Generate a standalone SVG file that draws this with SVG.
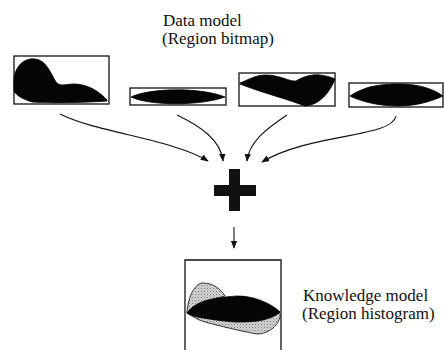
<svg xmlns="http://www.w3.org/2000/svg" width="444" height="350" viewBox="0 0 444 350">
  <style>
    .frame { fill: none; stroke: #111; stroke-width: 1.3; }
    .blob { fill: #050505; stroke: #000; stroke-width: 0.8; }
    .shade { fill: url(#stipple); stroke: #222; stroke-width: 0.9; }
    .conn { fill: none; stroke: #111; stroke-width: 1.1; }
    .label { font-family: "Liberation Serif", "Times New Roman", serif; font-size: 17px; fill: #111; }
  </style>
  <defs>
    <marker id="head" viewBox="0 0 10 10" refX="9" refY="5" markerWidth="8" markerHeight="8" markerUnits="userSpaceOnUse" orient="auto">
      <path d="M0,1 L10,5 L0,9 Z" fill="#111"/>
    </marker>
    <pattern id="stipple" width="3" height="3" patternUnits="userSpaceOnUse">
      <rect width="3" height="3" fill="#d4d4d4"/>
      <rect width="1" height="1" fill="#777"/>
      <rect x="1.5" y="1.5" width="1" height="1" fill="#999"/>
    </pattern>
  </defs>

  <!-- caption for the input bitmaps -->
  <g id="data-model-label">
    <text class="label" x="163" y="26">Data model</text>
    <text class="label" x="162" y="44">(Region bitmap)</text>
  </g>

  <!-- region bitmaps -->
  <g id="bitmap-1">
    <rect class="frame" x="14" y="56" width="95" height="48"/>
    <path class="blob" d="M14,79 C16,62 28,58 35,59 C46,60 50,72 56,82 C60,87 66,84 74,84 C88,84 100,92 107,100 L107,101 C80,103 45,103 32,102 C22,99 16,95 14,91 Z"/>
  </g>
  <g id="bitmap-2">
    <rect class="frame" x="130" y="88" width="96" height="17"/>
    <path class="blob" d="M131,97 C150,88 200,87 225,97 C200,106 150,106 131,97 Z"/>
  </g>
  <g id="bitmap-3">
    <rect class="frame" x="239" y="73" width="96" height="33"/>
    <path class="blob" d="M240,83 C248,80 255,75 266,75 C280,75 290,82 296,81 C302,77 312,74 320,75 C328,76 333,78 335,79 C330,92 320,105 305,106 C290,100 260,92 240,84 Z"/>
  </g>
  <g id="bitmap-4">
    <rect class="frame" x="349" y="83" width="94" height="24"/>
    <path class="blob" d="M350,96 C365,86 380,84 400,84 C420,84 435,90 443,96 C430,102 415,106 398,106 C380,106 362,102 350,96 Z"/>
  </g>

  <!-- combination operator -->
  <g id="plus">
    <rect x="214" y="185" width="42" height="11" fill="#111"/>
    <rect x="229" y="169" width="11" height="42" fill="#111"/>
  </g>

  <!-- resulting histogram model -->
  <g id="histogram">
    <path class="frame" d="M185,350 L185,260 L281,260 L281,350"/>
    <path class="shade" d="M187,313 C188,296 195,283 203,283 C213,283 221,289 225,296 C212,299 198,305 187,313 Z"/>
    <path class="shade" d="M187,313 C193,317 198,320 205,322 C220,326 240,331 257,334 C266,334 274,329 278,322 C280,318 281,315 280,313 C260,318 220,320 187,313 Z"/>
    <path class="blob" d="M187,313 C192,306 200,302 208,300 C216,298 224,297 237,296 C247,296 255,298 262,301 C270,304 276,308 280,312 C276,316 270,318 263,320 C255,322 245,322 235,322 C222,321 208,319 197,317 C192,316 189,314 187,313 Z"/>
  </g>
  <g id="knowledge-model-label">
    <text class="label" x="303" y="301">Knowledge model</text>
    <text class="label" x="302" y="319">(Region histogram)</text>
  </g>

  <!-- connectors -->
  <g id="connectors">
    <path class="conn" marker-end="url(#head)" d="M60,114 C95,132 175,140 208,161"/>
    <path class="conn" marker-end="url(#head)" d="M177,115 C200,126 221,140 223,161"/>
    <path class="conn" marker-end="url(#head)" d="M287,115 C266,129 249,142 247,161"/>
    <path class="conn" marker-end="url(#head)" d="M396,116 C392,138 310,133 262,162"/>
    <path class="conn" marker-end="url(#head)" d="M234,227 L234,248"/>
  </g>
</svg>
